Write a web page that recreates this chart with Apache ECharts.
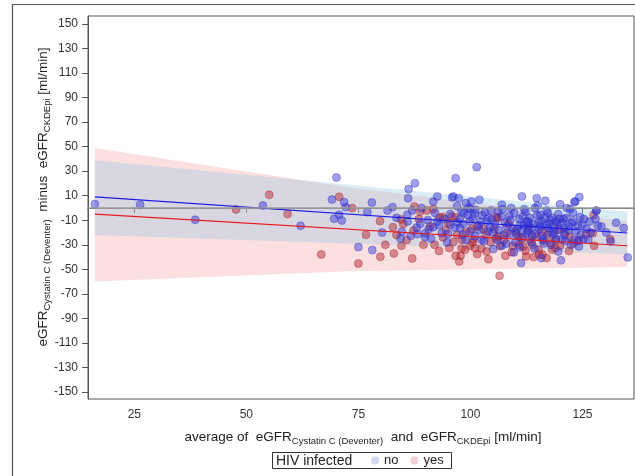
<!DOCTYPE html>
<html>
<head>
<meta charset="utf-8">
<script src="https://cdn.jsdelivr.net/npm/echarts@6/dist/echarts.min.js"></script>
<style>html,body{margin:0;padding:0;background:#fff;}#c{width:635px;height:476px;}</style>
</head>
<body>
<div id="c"></div>
<script>
// ---- Data ----
const xTicks = [25, 50, 75, 100, 125];
const yTicks = [-150, -130, -110, -90, -70, -50, -30, -10, 10, 30, 50, 70, 90, 110, 130, 150];

// HIV infected = no (blue)
const noPoints = [
  [16.2,3.2],[26.3,2.6],[38.6,-9.6],[53.7,2],[62.1,-14.5],[69.1,6.9],[70.1,24.9],[69.6,-8.8],[70.7,-5.5],[71.3,-10.2],
  [71.8,4.8],[72.2,0.7],[75,-31.9],[77,-3.4],[78,4.5],[78.1,-34.3],[82.6,0.7],[84.4,-24.8],[84.7,-19.4],[85.9,-5.5],
  [86.2,15.4],[86.1,8],[87.6,20.2],[86.7,-22.6],[88.8,-12.9],[89.1,-0.1],[88.2,-21.3],[89.9,-20.5],[89.9,-23.7],[90.7,-17.2],
  [91.7,5.3],[92.6,9.4],[91.7,-15.6],[92.6,-11],[93.6,-20.5],[95,-21.3],[95.5,-13.7],[95.9,8.6],[96.2,9.4],[96.7,24.3],
  [97,1.5],[97.4,8],[97.1,-11.8],[97.7,-16.4],[98.3,-21.8],[98,-2.8],[98.5,-4.2],[99,4],[99.6,0.4],[100.2,5.3],
  [99.9,-10.7],[101,-4.7],[101.1,-1.5],[101.4,33.3],[102,6.7],[102.2,-11],[102.5,-25.9],[103.2,-3.6],[103.6,-11],[104.4,-15.6],
  [104.8,-9],[105.1,-33.5],[106.2,-2.8],[107,2.6],[107,-30.8],[107.7,-11.8],[108.7,-6.3],[109.1,-0.1],[109.4,-16.4],[109.7,-36.2],
  [110.2,-21],[111.1,-13.7],[111.3,-44.9],[111.5,9.4],[111.7,-6.9],[112.6,-20.5],[112.9,-11],[113.7,-16.4],[114.4,-0.1],[114.8,8],
  [115.2,-11.8],[115.6,-5.5],[115.8,-40.8],[116.3,-25.4],[116.7,5.9],[117.4,-16.4],[117.8,-9.6],[118.5,-21.8],[119.3,-11.8],[119.6,-35.4],
  [120.2,-42.7],[120.4,-25.4],[120.8,-9],[121.5,-0.1],[121.9,-18.3],[122.6,-12.3],[123.1,-25.9],[123.4,5.3],[124.3,8.9],[124.5,-7.4],
  [124.9,-13.7],[124.2,-31.3],[125.2,-25.4],[126.3,-25.9],[126.6,-11],[128.1,-2],[128.4,-14.5],[131.3,-27.3],[134.2,-16.4],[135.1,-40.3],
  [123.2,4.8],[128.1,-2.3],
  [100.5,-8],[101.8,-14],[102.6,-6],[103.9,-19],[104.6,-2],[105.5,-13],[106.4,-18],[106.9,-7],[107.5,-22],[108.2,-15],
  [108.9,-10],[109.8,-4],[110.4,-17],[110.9,-9],[111.4,-24],[111.9,-14],[112.3,-3],[112.8,-19],[113.2,-8],[113.6,-28],
  [114.0,-13],[114.5,-21],[114.9,-6],[115.4,-17],[115.9,-11],[116.4,-29],[116.9,-14],[117.3,-4],[117.7,-20],[118.2,-8],
  [118.7,-15],[119.1,-25],[119.6,-5],[120.0,-18],[120.5,-12],[121.0,-22],[121.4,-8],[122.0,-15],[122.4,-30],[122.9,-4],
  [123.5,-19],[124.0,-14],[124.6,-22],[125.3,-9],[125.9,-17],[126.8,-20],[127.9,-9],[129.2,-15],[130.3,-20],[132.5,-12],
  [95.5,-5],[96.5,-16],[97.6,-9],[98.4,-13],[98.9,-26],[99.4,-6],[100.0,-19],[90.5,-10],[91.2,-25],[92.1,-4],
  [93.0,-14],[94.2,-9],[94.8,-28],[86.0,-11],[87.0,-2],[88.0,-16],[83.5,-8],[81.5,-2],[80.3,-20],
  [110.0,-28],[111.0,-32],[112.0,-1],[113.0,-14],[114.3,-33],[115.0,2],[116.0,-23],[117.0,-2],[118.0,-30],[119.0,-11],
  [120.0,3],[121.2,-27],[122.2,-1],[123.0,-11],[124.0,-27],[105.0,-20],[106.0,-26],[107.2,-1],[108.0,-29],[109.0,-21],
  [103.0,-27],[104.0,-8],[102.0,-18],[101.0,-23],[100.0,-1],[111.5,-18],[113.8,-23],[116.6,-8],[118.6,-19],[120.9,-16],
  [117.5,-13],[119.8,-9],[115.6,-15],[112.6,-11]
];

// HIV infected = yes (red)
const yesPoints = [
  [47.7,-1.2],[55.1,10.8],[59.2,-5],[66.7,-37.9],[70.7,9.1],[73.6,-0.1],[75,-45.2],[76.7,-21.8],[79.8,-10.7],[79.9,-39.8],
  [82.9,-37],[82.7,-15.6],[84.5,-9.3],[84.6,-30.8],[85,-13.1],[87,-41.1],[87.3,-18.3],[87.5,1.2],[88.8,-2.8],[90.3,-2],
  [91.7,-0.9],[93.1,-7.7],[93.8,-7.4],[93.9,-24],[95.3,-32.7],[95.8,-6.9],[96.2,-27.8],[96.6,-7.5],[96.7,-38.9],[97.5,-43.6],
  [97.8,-38.9],[98.1,-25.9],[98.8,-34.1],[99.9,-30.8],[100.2,-17.2],[100.7,-25.4],[101,-32.7],[101.5,-37.6],[102.9,-17.2],[103.6,-35.4],
  [104,-41.7],[105.7,-24.5],[105.9,-7.4],[106.5,-55.2],[106.2,-23.2],[106,-8.3],[107.8,-38.9],[108.1,-20.5],[109.4,-30.8],[110.7,-23.2],
  [111.8,-31.3],[112.4,-39.5],[113.3,-25.9],[114.1,-40],[115.2,-34.1],[115.9,-19.1],[116.1,-38.1],[117,-40.8],[117.9,-28.6],[118.9,-32.7],
  [119.4,-17.8],[122.1,-23.7],[125.8,-21.8],[127.5,-5.5],[127.6,-30.8],[127.3,-20.5],[131.2,-25.4],
  [99.0,-20],[100.5,-28],[101.5,-15],[102.5,-33],[103.5,-22],[104.5,-28],[105.3,-17],[106.6,-31],[107.5,-26],[108.5,-13],
  [109.2,-36],[110.0,-19],[110.8,-30],[111.6,-25],[112.3,-35],[113.0,-18],[113.8,-30],[114.6,-23],[115.3,-38],[116.2,-27],
  [117.2,-22],[118.2,-34],[119.0,-26],[120.0,-31],[121.0,-20],[122.0,-35],[123.0,-29],[124.2,-26],[91.0,-15],[92.0,-30],
  [93.0,-35],[94.5,-18],[95.0,-12],[97.0,-22],[98.0,-33],[89.5,-30],[88.5,-9],[85.8,-26],[83.5,-22],[81.0,-30]
];

// regression lines (endpoints)
const noFitX = [16.2, 135.0];
const noFitY = [9.1, -20.4];
const yesFitX = [16.2, 135.0];
const yesFitY = [-5.0, -30.8];

// confidence bands
const bandX = [16.2, 73.0, 135.0];
const noBandLow = [-22, -29, -38];
const noBandHigh = [39, 19, -3];
const yesBandLow = [-60, -51.5, -48];
const yesBandHigh = [49, 16.7, -11];

// ---- Chart ----
const FONT = "'Liberation Sans', Arial, sans-serif";
const chart = echarts.init(document.getElementById('c'), null, {renderer: 'canvas'});

function bandData(lo, hi) { return bandX.map((x, i) => [x, lo[i], hi[i]]); }
function bandRender(lo, hi, fill) {
  return function (params, api) {
    if (params.dataIndex !== 0) return null;
    const pts = [];
    for (let i = 0; i < bandX.length; i++) pts.push(api.coord([bandX[i], hi[i]]));
    for (let i = bandX.length - 1; i >= 0; i--) pts.push(api.coord([bandX[i], lo[i]]));
    return { type: 'polygon', shape: { points: pts }, style: { fill: fill }, silent: true };
  };
}

const subRich = {
  m: { fontSize: 13.5, fontFamily: FONT, fill: '#222', lineHeight: 18, verticalAlign: 'middle' },
  s: { fontSize: 9.5, fontFamily: FONT, fill: '#222', lineHeight: 9, verticalAlign: 'bottom' }
};

const option = {
  animation: false,
  backgroundColor: '#fff',
  grid: { left: 88, top: 16, right: 1, bottom: 77, show: true, borderColor: '#555', borderWidth: 1 },
  xAxis: {
    type: 'value', min: 14.66, max: 136.5,
    axisLine: { show: true, lineStyle: { color: '#555', width: 1 } },
    axisTick: { show: true, customValues: xTicks, length: 5, lineStyle: { color: '#555' } },
    axisLabel: { customValues: xTicks, fontSize: 12, color: '#333', fontFamily: FONT, margin: 10 },
    splitLine: { show: false }
  },
  yAxis: {
    type: 'value', min: -155.7, max: 156.5,
    axisLine: { show: true, lineStyle: { color: '#555', width: 1 } },
    axisTick: { show: true, customValues: yTicks, length: 6, lineStyle: { color: '#555' } },
    axisLabel: { customValues: yTicks, fontSize: 12, color: '#333', fontFamily: FONT, margin: 10 },
    splitLine: { show: false }
  },
  legend: {
    data: ['no', 'yes'], left: 371, top: 454, padding: 0, icon: 'circle', itemWidth: 8, itemHeight: 8, itemGap: 12,
    textStyle: { fontSize: 13, color: '#222', fontFamily: FONT },
    itemStyle: { opacity: 0.35, borderWidth: 0 }
  },
  graphic: [
    { type: 'rect', shape: { x: 12.5, y: 4.5, width: 700, height: 600 }, style: { fill: 'transparent', stroke: '#555', lineWidth: 1.2 }, silent: true, z: 100 },
    { type: 'rect', shape: { x: 272.5, y: 452.5, width: 179, height: 16 }, style: { fill: 'transparent', stroke: '#333', lineWidth: 1 }, silent: true },
    { type: 'text', x: 276, y: 461, style: { text: 'HIV infected', fontSize: 14, fontFamily: FONT, fill: '#222', textVerticalAlign: 'middle' }, silent: true },
    { type: 'text', x: 363, y: 437,
      style: { text: '{m|average of  eGFR}{s|Cystatin C (Deventer)}{m|  and  eGFR}{s|CKDEpi}{m| [ml/min]}', rich: subRich, textAlign: 'center', textVerticalAlign: 'middle' }, silent: true },
    { type: 'text', x: 43, y: 197, rotation: Math.PI / 2,
      style: { text: '{m|eGFR}{s|Cystatin C (Deventer)}{m|  minus  eGFR}{s|CKDEpi}{m| [ml/min]}', rich: subRich, textAlign: 'center', textVerticalAlign: 'middle' }, silent: true }
  ],
  series: [
    { type: 'custom', name: 'bandYes', data: bandData(yesBandLow, yesBandHigh), encode: { x: 0, y: [1, 2] },
      renderItem: bandRender(yesBandLow, yesBandHigh, 'rgba(245,150,150,0.30)'), z: 1, silent: true },
    { type: 'custom', name: 'bandNo', data: bandData(noBandLow, noBandHigh), encode: { x: 0, y: [1, 2] },
      renderItem: bandRender(noBandLow, noBandHigh, 'rgba(150,200,230,0.35)'), z: 1, silent: true,
      markLine: { silent: true, symbol: 'none', label: { show: false }, lineStyle: { color: '#9a9a9a', width: 1.5, type: 'solid' }, data: [{ yAxis: 0 }] } },
    { type: 'scatter', name: 'yes', data: yesPoints, symbol: 'circle', symbolSize: 8, z: 3,
      itemStyle: { color: 'rgba(180,35,50,0.6)', borderColor: 'rgba(160,30,40,0.75)', borderWidth: 0.6 } },
    { type: 'scatter', name: 'no', data: noPoints, symbol: 'circle', symbolSize: 8, z: 3,
      itemStyle: { color: 'rgba(50,50,215,0.58)', borderColor: 'rgba(40,40,190,0.75)', borderWidth: 0.6 } },
    { type: 'line', name: 'fitNo', data: noFitX.map((x, i) => [x, noFitY[i]]), symbol: 'none', z: 4,
      lineStyle: { color: '#1a1ae6', width: 1.2 } },
    { type: 'line', name: 'fitYes', data: yesFitX.map((x, i) => [x, yesFitY[i]]), symbol: 'none', z: 4,
      lineStyle: { color: '#e61a1a', width: 1.2 } }
  ]
};
chart.setOption(option);
</script>
</body>
</html>
